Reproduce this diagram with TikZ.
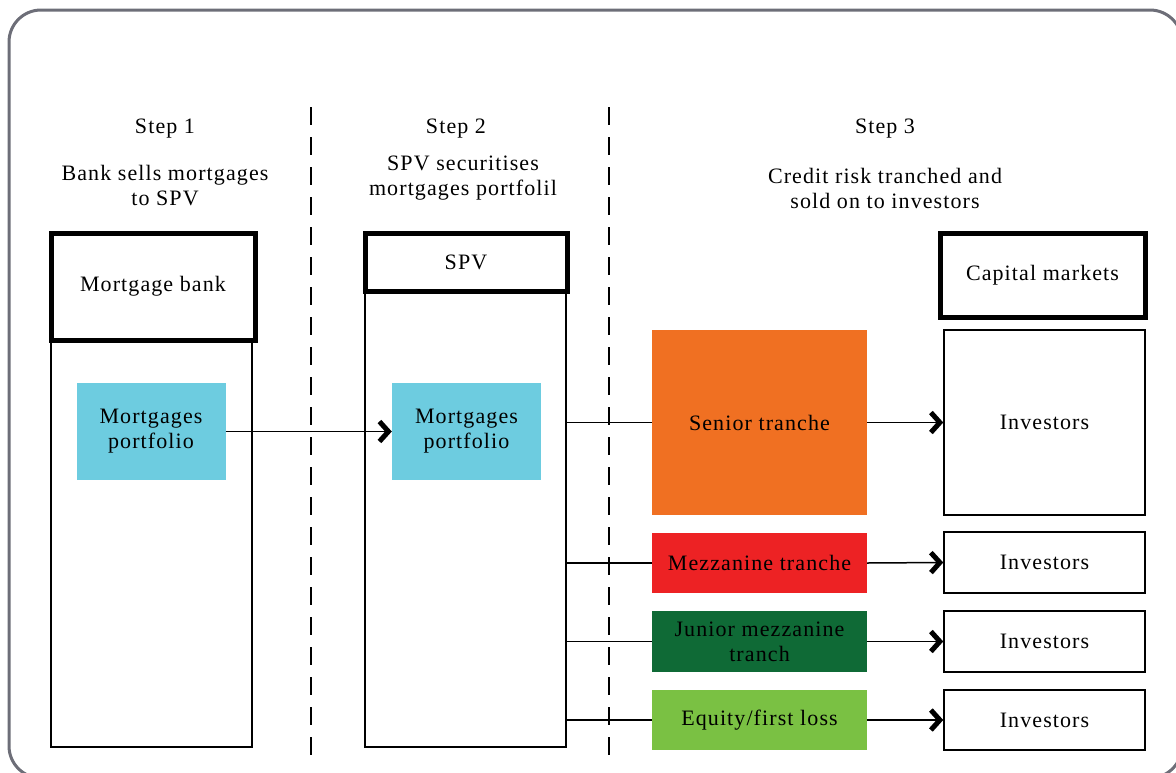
\documentclass[tikz,border=0pt]{standalone}
\usepackage{fontspec}
\setmainfont{Liberation Serif}[LetterSpace=5]
\usetikzlibrary{arrows.meta}
\definecolor{framegray}{RGB}{109,110,120}
\definecolor{portblue}{RGB}{109,204,224}
\definecolor{seniororange}{RGB}{240,112,34}
\definecolor{mezzred}{RGB}{237,34,36}
\definecolor{juniorgreen}{RGB}{15,106,54}
\definecolor{equitygreen}{RGB}{122,193,67}
\tikzset{
  column/.style={draw=black, line width=1.5pt, minimum width=201pt, inner sep=0pt},
  header/.style={draw=black, line width=5pt, fill=white, inner sep=0pt},
  portfolio/.style={fill=portblue, minimum width=149pt, minimum height=97pt, align=center, inner sep=0pt},
  tranche/.style={minimum width=215pt, align=center, inner sep=0pt},
  investors/.style={draw=black, line width=1.5pt, minimum width=201pt, inner sep=0pt},
  flow/.style={line width=1.5pt, -{Straight Barb[line width=5pt, length=9pt, width=20pt]}},
  link/.style={line width=1.5pt}
}
\begin{document}
\begin{tikzpicture}[x=1pt, y=-1pt, font=\fontsize{22}{25}\selectfont]
\useasboundingbox (0,0) rectangle (1176,772);
\draw[framegray, line width=3pt, rounded corners=32pt] (9,10) rectangle (1182,778);

% step titles
\node (step1) at (165,129) {Step 1};
\node (step2) at (456,129) {Step 2};
\node (step3) at (885,129) {Step 3};
\node[align=center] (text1) at (165,186) {Bank sells mortgages\\to SPV};
\node[align=center] (text2) at (463,178) {SPV securitises\\mortgages portfolil};
\node[align=center] (text3) at (885,188) {Credit risk tranched and\\sold on to investors};

% separators
\coordinate (d1top) at (311,107); \coordinate (d1bot) at (311,762);
\coordinate (d2top) at (609,107); \coordinate (d2bot) at (609,762);
\draw[line width=2pt, dash pattern=on 18pt off 12pt] (d1top) -- (d1bot);
\draw[line width=2pt, dash pattern=on 18pt off 12pt] (d2top) -- (d2bot);

% columns
\node[column, minimum height=514pt] (bankcol) at (151.5,490) {};
\node[header, minimum width=204pt, minimum height=107pt] (bank) at (153,286.5) {Mortgage bank};
\node[column, minimum height=514pt] (spvcol) at (465.5,490) {};
\node[header, minimum width=202pt, minimum height=58pt] (spv) at (466,262) {SPV};
\node[header, minimum width=205pt, minimum height=84pt] (capital) at (1042.5,275) {Capital markets};

\node[portfolio] (bankport) at (151,431.5) {Mortgages\\portfolio};
\node[portfolio] (spvport) at (466.5,431.5) {Mortgages\\portfolio};

% tranches
\node[tranche, fill=seniororange, minimum height=185pt] (senior) at (759.5,422.5) {Senior tranche};
\node[tranche, fill=mezzred, minimum height=60pt] (mezz) at (759.5,563) {Mezzanine tranche};
\node[tranche, fill=juniorgreen, minimum height=61pt] (junior) at (759.5,641.5) {Junior mezzanine\\tranch};
\node[tranche, fill=equitygreen, minimum height=60pt] (equity) at (759.5,720) {Equity/first loss};

\node[investors, minimum height=185pt] (inv1) at (1044.5,422.5) {Investors};
\node[investors, minimum height=61pt] (inv2) at (1044.5,562.5) {Investors};
\node[investors, minimum height=61pt] (inv3) at (1044.5,641.5) {Investors};
\node[investors, minimum height=60pt] (inv4) at (1044.5,720) {Investors};

% connectors
\draw[flow] (bankport.east) -- (spvport.west);
\draw[link] (spvcol.east |- senior.west) -- (senior.west);
\draw[link] (spvcol.east |- mezz.west) -- (mezz.west);
\draw[link] (spvcol.east |- junior.west) -- (junior.west);
\draw[link] (spvcol.east |- equity.west) -- (equity.west);
\draw[flow] (senior.east) -- (inv1.west);
\draw[flow] (mezz.east) -- (inv2.west);
\draw[flow] (junior.east) -- (inv3.west);
\draw[flow] (equity.east) -- (inv4.west);
\end{tikzpicture}
\end{document}
